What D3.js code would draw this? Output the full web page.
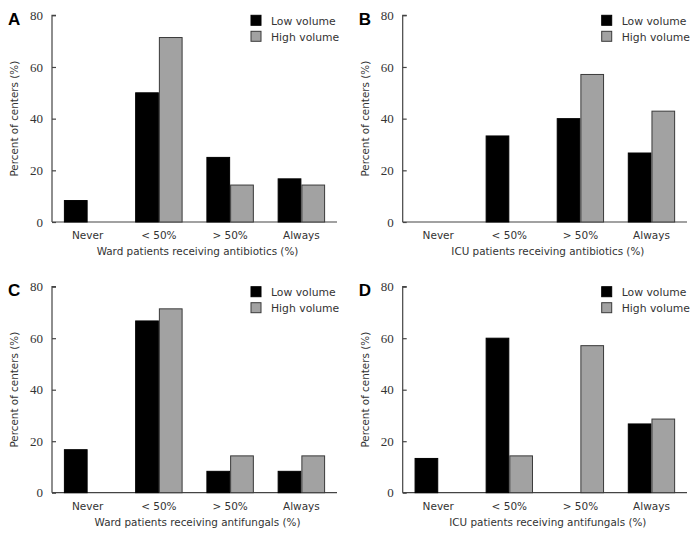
<!DOCTYPE html>
<html>
<head>
<meta charset="utf-8">
<script src="https://cdn.jsdelivr.net/npm/d3@7"></script>
<style>
  html, body { margin: 0; padding: 0; background: #fff; }
  svg { display: block; }
</style>
</head>
<body>
<svg id="chart" width="700" height="541"></svg>
<script>
// ---- data ----
const categories = ["Never", "< 50%", "> 50%", "Always"];
const seriesNames = ["Low volume", "High volume"];
const yTicks = [0, 20, 40, 60, 80];

const panelLetters = ["A", "B", "C", "D"];
const panelTitles = [
  "Ward patients receiving antibiotics (%)",
  "ICU patients receiving antibiotics (%)",
  "Ward patients receiving antifungals (%)",
  "ICU patients receiving antifungals (%)"
];
const lowA = [8.3, 50.0, 25.0, 16.7];
const highA = [0, 71.4, 14.3, 14.3];
const lowB = [0, 33.3, 40.0, 26.7];
const highB = [0, 0, 57.1, 42.9];
const lowC = [16.7, 66.7, 8.3, 8.3];
const highC = [0, 71.4, 14.3, 14.3];
const lowD = [13.3, 60.0, 0, 26.7];
const highD = [0, 14.3, 57.1, 28.6];

const panelLow = [lowA, lowB, lowC, lowD];
const panelHigh = [highA, highB, highC, highD];

// ---- layout ----
const svg = d3.select("#chart");
const layouts = [
  { x0: 52, x1: 337, yTop: 15.3, yBot: 222 },
  { x0: 402.7, x1: 687, yTop: 15.3, yBot: 222 },
  { x0: 52, x1: 337, yTop: 286.7, yBot: 492.7 },
  { x0: 402.7, x1: 687, yTop: 286.7, yBot: 492.7 }
];
const colors = { "Low volume": "#000000", "High volume": "#a2a2a2" };
const strokes = { "Low volume": "#000000", "High volume": "#3a3a3a" };
const sansFont = "'DejaVu Sans', Verdana, sans-serif";
const serifFont = "'Liberation Serif', 'Times New Roman', serif";
const axisColor = "#444";
const textColor = "#333";

layouts.forEach((L, i) => {
  const g = svg.append("g");
  const y = d3.scaleLinear().domain([0, 80]).range([L.yBot, L.yTop]);
  const x = d3.scaleBand().domain(categories).range([L.x0, L.x1]).padding(0);
  const step = x.bandwidth();
  const xs = d3.scaleBand().domain(seriesNames)
    .range([step * 0.167, step * 0.833]).padding(0);

  // y axis (ticks inward)
  const yAxis = d3.axisRight(y).tickValues(yTicks).tickSize(4).tickFormat("");
  const ya = g.append("g").attr("transform", `translate(${L.x0},0)`).call(yAxis);
  ya.select(".domain").attr("stroke", axisColor).attr("stroke-width", 1.2)
    .attr("d", `M4,${L.yTop}H0V${L.yBot}`);
  ya.selectAll(".tick line").attr("stroke", axisColor).attr("stroke-width", 1.2);

  // y tick labels
  g.selectAll(".ylab").data(yTicks).join("text")
    .attr("x", L.x0 - 9)
    .attr("y", d => y(d))
    .attr("dy", "0.35em")
    .attr("text-anchor", "end")
    .attr("font-family", serifFont)
    .attr("font-size", 13)
    .attr("fill", textColor)
    .text(d => d);

  // x axis line
  g.append("line")
    .attr("x1", L.x0).attr("x2", L.x1)
    .attr("y1", L.yBot).attr("y2", L.yBot)
    .attr("stroke", axisColor).attr("stroke-width", 1.2);

  // bars
  const rows = categories.map((c, k) => ({ cat: c, vals: [panelLow[i][k], panelHigh[i][k]] }));
  const grp = g.selectAll(".grp").data(rows).join("g")
    .attr("transform", d => `translate(${x(d.cat)},0)`);
  grp.selectAll("rect")
    .data(d => d.vals.map((v, j) => ({ s: seriesNames[j], v })).filter(e => e.v > 0))
    .join("rect")
    .attr("x", d => xs(d.s) + 0.5)
    .attr("width", xs.bandwidth() - 1)
    .attr("y", d => y(d.v))
    .attr("height", d => L.yBot - y(d.v))
    .attr("fill", d => colors[d.s])
    .attr("stroke", d => strokes[d.s])
    .attr("stroke-width", 1);

  // category labels
  g.selectAll(".clab").data(categories).join("text")
    .attr("x", d => x(d) + step / 2)
    .attr("y", L.yBot + 17)
    .attr("text-anchor", "middle")
    .attr("font-family", sansFont)
    .attr("font-size", 10.5)
    .attr("fill", textColor)
    .text(d => d);

  // x title
  g.append("text")
    .attr("x", (L.x0 + L.x1) / 2 + 3)
    .attr("y", L.yBot + 33)
    .attr("text-anchor", "middle")
    .attr("font-family", sansFont)
    .attr("font-size", 10.4)
    .attr("fill", textColor)
    .text(panelTitles[i]);

  // y title
  g.append("text")
    .attr("transform", `translate(${L.x0 - 34},${(L.yTop + L.yBot) / 2}) rotate(-90)`)
    .attr("text-anchor", "middle")
    .attr("font-family", sansFont)
    .attr("font-size", 10.4)
    .attr("fill", textColor)
    .text("Percent of centers (%)");

  // panel letter
  g.append("text")
    .attr("x", L.x0 - 44)
    .attr("y", L.yTop + 9.5)
    .attr("font-family", "'Liberation Sans', Arial, sans-serif")
    .attr("font-weight", "bold")
    .attr("font-size", 17)
    .attr("fill", "#000")
    .text(panelLetters[i]);

  // legend
  const lg = g.append("g").attr("transform", `translate(${L.x0 + 199},${L.yTop})`);
  seriesNames.forEach((s, j) => {
    lg.append("rect")
      .attr("x", 0).attr("y", j * 16)
      .attr("width", 10).attr("height", 10)
      .attr("fill", colors[s]).attr("stroke", strokes[s]).attr("stroke-width", 1);
    lg.append("text")
      .attr("x", 20).attr("y", j * 16 + 9.5)
      .attr("font-family", sansFont)
      .attr("font-size", 10.8)
      .attr("fill", textColor)
      .text(s);
  });
});
</script>
</body>
</html>
